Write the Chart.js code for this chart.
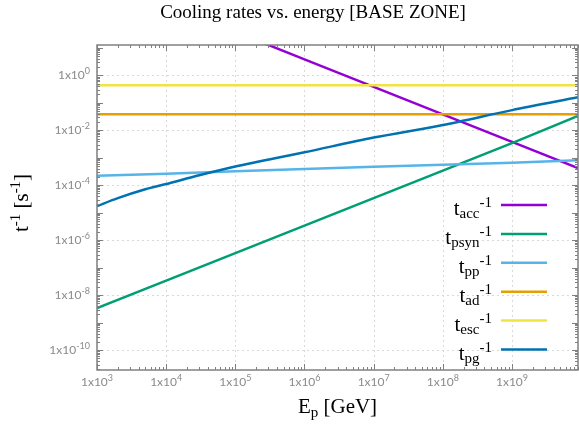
<!DOCTYPE html>
<html>
<head>
<meta charset="utf-8">
<script src="https://cdn.jsdelivr.net/npm/chart.js@4.4.0/dist/chart.umd.min.js"></script>
<style>
  html, body { margin: 0; padding: 0; background: #fff; }
  #wrap { width: 579px; height: 426px; position: relative; }
</style>
</head>
<body>
<div id="wrap"><canvas id="coolingChart"></canvas></div>
<script>
// energies in GeV
const energies = [1e3, 1e4, 1e5, 1e6, 1e7, 1e8, 1e9, 9e9];

// inverse cooling times in s^-1, one value per energy (null = above the plot)
const accRate = [null, null, 38, 3.8, 0.38, 0.038, 0.0038, 4.2e-4];
const psynRate = [3.4e-9, 3.4e-8, 3.4e-7, 3.4e-6, 3.4e-5, 3.4e-4, 3.4e-3, 3.3e-2];
const ppRate = [2.2e-4, 2.6e-4, 3.2e-4, 3.9e-4, 4.7e-4, 5.5e-4, 6.6e-4, 8.1e-4];
const adRate = [0.038, 0.038, 0.038, 0.038, 0.038, 0.038, 0.038, 0.038];
const escRate = [0.43, 0.43, 0.43, 0.43, 0.43, 0.43, 0.43, 0.43];

// photopion curve is bent, so it gets its own energy list
const pgEnergies = [1e3, 2e3, 5e3, 1e4, 3e4, 1e5, 1e6, 1e7, 1e8, 1e9, 9e9];
const pgRate = [1.74e-5, 3.4e-5, 7.1e-5, 1.1e-4, 2.3e-4, 4.8e-4, 1.58e-3, 5.4e-3, 1.55e-2, 5.4e-2, 0.158];

const xTicks = [1e3, 1e4, 1e5, 1e6, 1e7, 1e8, 1e9];
const yTicks = [1e0, 1e-2, 1e-4, 1e-6, 1e-8, 1e-10];

const seriesNames = ["acc", "psyn", "pp", "ad", "esc", "pg"];
const seriesColors = ["#9400d3", "#009e73", "#56b4e9", "#e69f00", "#f0e442", "#0072b2"];

const SERIF = "'Liberation Serif', 'Times New Roman', serif";
const SANS = "Lato, 'Open Sans', sans-serif";

function toPoints(xs, ys) {
  return xs.map((x, i) => ({ x: x, y: ys[i] })).filter((p) => p.y !== null);
}

// draws text pieces one after another: [{t, size, dy}]
function drawRich(ctx, parts, x, y, align, family, color) {
  family = family || SERIF;
  let width = 0;
  parts.forEach((p) => {
    ctx.font = p.size + "px " + family;
    p.w = ctx.measureText(p.t).width;
    width += p.w;
  });
  let cx = x;
  if (align === "right") cx = x - width;
  if (align === "center") cx = x - width / 2;
  ctx.textAlign = "left";
  ctx.textBaseline = "alphabetic";
  ctx.fillStyle = color || "#000";
  parts.forEach((p) => {
    ctx.font = p.size + "px " + family;
    ctx.fillText(p.t, cx, y + (p.dy || 0));
    cx += p.w;
  });
}

function tickParts(value) {
  const exp = String(Math.round(Math.log10(value)));
  return [
    { t: "1x10", size: 12 },
    { t: exp, size: 9, dy: -5 },
  ];
}

const rates = [accRate, psynRate, ppRate, adRate, escRate];
const datasets = seriesNames.map((name, i) => ({
  label: name,
  data: name === "pg" ? toPoints(pgEnergies, pgRate) : toPoints(energies, rates[i]),
  borderColor: seriesColors[i],
  borderWidth: 2.5,
  pointRadius: 0,
  tension: name === "pg" ? 0.3 : 0,
  order: seriesNames.length - i,
}));

const framePlugin = {
  id: "frame",
  beforeDatasetsDraw(chart) {
    const { ctx, chartArea: a, scales } = chart;
    ctx.save();
    ctx.strokeStyle = "#d9d9d9";
    ctx.lineWidth = 1;
    ctx.setLineDash([2, 3]);
    xTicks.forEach((v) => {
      const px = Math.round(scales.x.getPixelForValue(v)) + 0.5;
      ctx.beginPath();
      ctx.moveTo(px, a.top);
      ctx.lineTo(px, a.bottom);
      ctx.stroke();
    });
    yTicks.forEach((v) => {
      const py = Math.round(scales.y.getPixelForValue(v)) + 0.5;
      ctx.beginPath();
      ctx.moveTo(a.left, py);
      ctx.lineTo(a.right, py);
      ctx.stroke();
    });
    ctx.restore();
  },
  afterDatasetsDraw(chart) {
    const { ctx, chartArea: a, scales } = chart;
    ctx.save();
    ctx.strokeStyle = "#808080";
    ctx.lineWidth = 1;
    // inward ticks, mirrored on all four sides
    for (let d = -11; d <= 10; d++) {
      for (let k = 1; k <= 9; k++) {
        const v = k * Math.pow(10, d);
        const len = k === 1 ? 6 : 3;
        if (v >= scales.x.min && v <= scales.x.max) {
          const px = Math.round(scales.x.getPixelForValue(v)) + 0.5;
          ctx.beginPath();
          ctx.moveTo(px, a.bottom); ctx.lineTo(px, a.bottom - len);
          ctx.moveTo(px, a.top); ctx.lineTo(px, a.top + len);
          ctx.stroke();
        }
        if (v >= scales.y.min && v <= scales.y.max) {
          const py = Math.round(scales.y.getPixelForValue(v)) + 0.5;
          ctx.beginPath();
          ctx.moveTo(a.left, py); ctx.lineTo(a.left + len, py);
          ctx.moveTo(a.right, py); ctx.lineTo(a.right - len, py);
          ctx.stroke();
        }
      }
    }
    ctx.lineWidth = 1.5;
    ctx.strokeRect(a.left, a.top, a.right - a.left, a.bottom - a.top);
    ctx.restore();
  },
  afterDraw(chart) {
    const { ctx, chartArea: a, scales } = chart;
    ctx.save();

    // tick labels
    xTicks.forEach((v) => {
      drawRich(ctx, tickParts(v), scales.x.getPixelForValue(v), a.bottom + 16, "center", SANS, "#8a8a8a");
    });
    yTicks.forEach((v) => {
      drawRich(ctx, tickParts(v), a.left - 7, scales.y.getPixelForValue(v) + 4, "right", SANS, "#8a8a8a");
    });

    ctx.font = "19px " + SERIF;
    ctx.fillStyle = "#000";
    ctx.textAlign = "center";
    ctx.textBaseline = "alphabetic";
    ctx.fillText("Cooling rates vs. energy [BASE ZONE]", 313, 18);

    // x axis title
    drawRich(ctx, [
      { t: "E", size: 21 },
      { t: "p", size: 15, dy: 4 },
      { t: " [GeV]", size: 21 },
    ], (a.left + a.right) / 2, 413, "center");

    // y axis title
    ctx.save();
    ctx.translate(28, 203);
    ctx.rotate(-Math.PI / 2);
    drawRich(ctx, [
      { t: "t", size: 21 },
      { t: "-1", size: 15, dy: -8 },
      { t: " [s", size: 21 },
      { t: "-1", size: 15, dy: -8 },
      { t: "]", size: 21 },
    ], 0, 0, "center");
    ctx.restore();

    // legend
    seriesNames.forEach((name, i) => {
      const ly = 205 + i * 28.9;
      drawRich(ctx, [
        { t: "t", size: 21 },
        { t: name, size: 15, dy: 3 },
        { t: "-1", size: 15, dy: -8 },
      ], 492, ly + 10, "right");
      ctx.strokeStyle = seriesColors[i];
      ctx.lineWidth = 2.5;
      ctx.beginPath();
      ctx.moveTo(501, ly);
      ctx.lineTo(547, ly);
      ctx.stroke();
    });
    ctx.restore();
  },
};

const ctx = document.getElementById("coolingChart").getContext("2d");
new Chart(ctx, {
  type: "line",
  data: { datasets: datasets },
  options: {
    responsive: true,
    maintainAspectRatio: false,
    devicePixelRatio: 1,
    animation: false,
    layout: { padding: { top: 45, right: 1, left: 0, bottom: 0 } },
    plugins: { legend: { display: false }, tooltip: { enabled: false }, title: { display: false } },
    scales: {
      x: {
        type: "logarithmic",
        min: 1e3,
        max: 9e9,
        afterBuildTicks: (scale) => { scale.ticks = xTicks.map((v) => ({ value: v })); },
        afterFit: (scale) => { scale.height = 56; },
        grid: { display: false, drawTicks: false },
        border: { display: false },
        ticks: { display: false },
      },
      y: {
        type: "logarithmic",
        min: 1.9e-11,
        max: 12.6,
        afterBuildTicks: (scale) => { scale.ticks = yTicks.map((v) => ({ value: v })); },
        afterFit: (scale) => { scale.width = 97; },
        grid: { display: false, drawTicks: false },
        border: { display: false },
        ticks: { display: false },
      },
    },
  },
  plugins: [framePlugin],
});
</script>
</body>
</html>
